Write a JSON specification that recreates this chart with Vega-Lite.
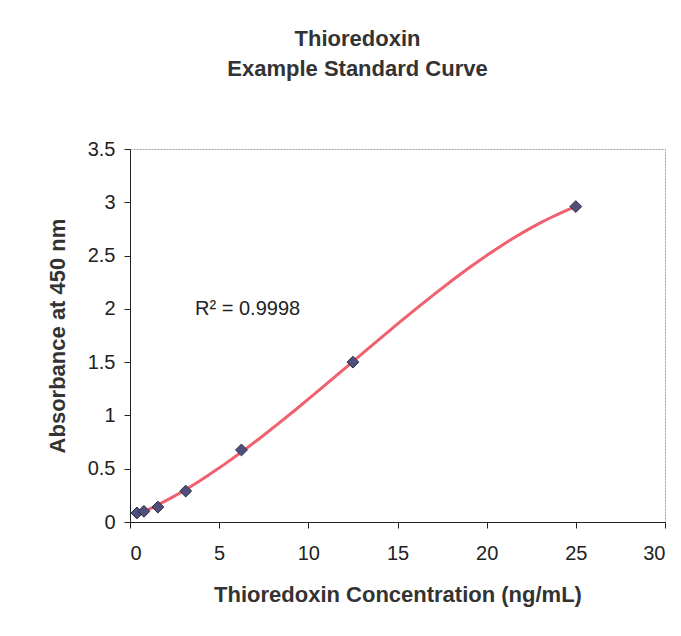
{
  "$schema": "https://vega.github.io/schema/vega-lite/v6.json",
  "width": 535,
  "height": 373,
  "autosize": "none",
  "padding": {"left": 130, "top": 149, "right": 16, "bottom": 114},
  "background": "white",
  "title": {
    "text": ["Thioredoxin", "Example Standard Curve"],
    "font": "Liberation Sans",
    "fontSize": 22,
    "fontWeight": "bold",
    "color": "#333333",
    "lineHeight": 30,
    "anchor": "middle",
    "dx": -40,
    "offset": 58
  },
  "config": {
    "view": {"stroke": "#a0a0a0", "strokeWidth": 1, "strokeDash": [2, 1]},
    "axis": {
      "grid": false,
      "domainColor": "#222222",
      "tickColor": "#222222",
      "labelFont": "Liberation Sans",
      "labelFontSize": 20,
      "labelColor": "#222222",
      "titleFont": "Liberation Sans",
      "titleFontSize": 22,
      "titleFontWeight": "bold",
      "titleColor": "#333333",
      "tickSize": 6,
      "format": "~g"
    }
  },
  "data": {
    "values": [
      {"conc": 0.39, "abs": 0.085},
      {"conc": 0.78, "abs": 0.10},
      {"conc": 1.5625, "abs": 0.14},
      {"conc": 3.125, "abs": 0.29},
      {"conc": 6.25, "abs": 0.676},
      {"conc": 12.5, "abs": 1.50},
      {"conc": 25, "abs": 2.96}
    ]
  },
  "layer": [
    {
      "transform": [
        {"regression": "abs", "on": "conc", "method": "poly", "order": 3}
      ],
      "mark": {"type": "line", "color": "#f0606e", "strokeWidth": 3},
      "encoding": {
        "x": {"field": "conc", "type": "quantitative"},
        "y": {"field": "abs", "type": "quantitative"}
      }
    },
    {
      "mark": {"type": "point", "shape": "diamond", "filled": true, "color": "#4f4f7d", "stroke": "#2a2a40", "strokeWidth": 1, "size": 140, "opacity": 1},
      "encoding": {
        "x": {
          "field": "conc",
          "type": "quantitative",
          "scale": {"domain": [0, 30], "nice": false},
          "axis": {"values": [0, 5, 10, 15, 20, 25, 30], "title": "Thioredoxin Concentration (ng/mL)", "titlePadding": 21, "labelPadding": 15}
        },
        "y": {
          "field": "abs",
          "type": "quantitative",
          "scale": {"domain": [0, 3.5], "nice": false},
          "axis": {"values": [0, 0.5, 1, 1.5, 2, 2.5, 3, 3.5], "title": "Absorbance at 450 nm", "titlePadding": 18, "labelPadding": 9}
        }
      }
    },
    {
      "data": {"values": [{"conc": 3.65, "abs": 2.0, "label": "R² = 0.9998"}]},
      "mark": {"type": "text", "align": "left", "baseline": "middle", "font": "Liberation Sans", "fontSize": 20, "color": "#222222"},
      "encoding": {
        "x": {"field": "conc", "type": "quantitative"},
        "y": {"field": "abs", "type": "quantitative"},
        "text": {"field": "label"}
      }
    }
  ]
}
